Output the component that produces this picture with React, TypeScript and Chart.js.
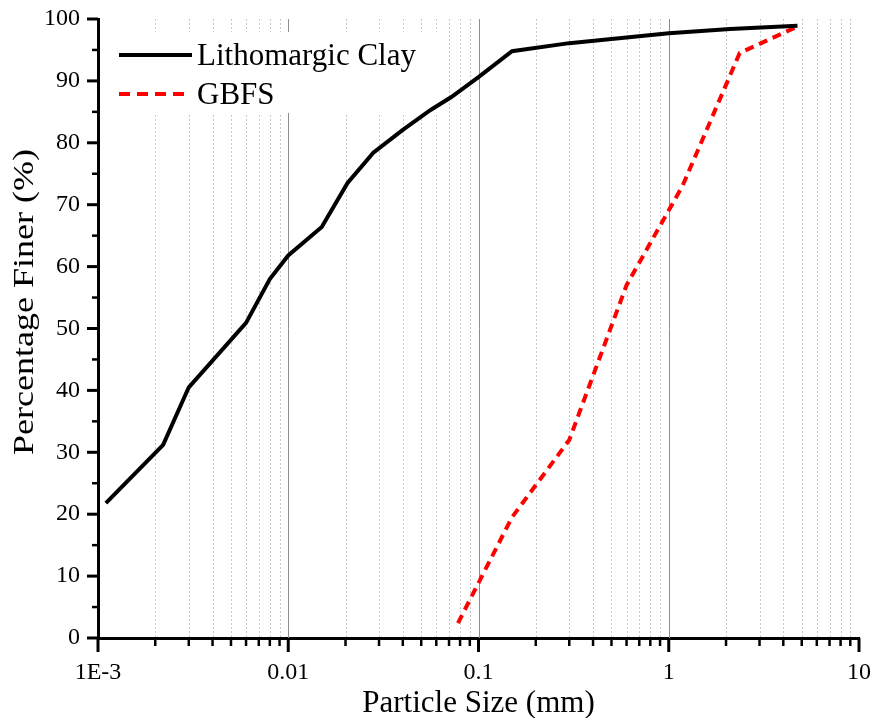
import React, { useEffect, useRef } from "react";
import { Chart, registerables } from "chart.js";

Chart.register(...registerables);

const clayLabel = "Lithomargic Clay";
const gbfsLabel = "GBFS";

const claySize = [0.0011, 0.0022, 0.003, 0.006, 0.008, 0.01, 0.015, 0.0205, 0.028, 0.04, 0.056, 0.072, 0.1, 0.15, 0.3, 1.0, 2.1, 4.75];
const clayFiner = [21.8, 31.2, 40.5, 50.9, 58.0, 61.8, 66.4, 73.5, 78.4, 82.1, 85.3, 87.4, 90.6, 94.8, 96.1, 97.7, 98.4, 98.9];

const gbfsSize = [0.078, 0.15, 0.3, 0.6, 1.18, 2.36, 4.75];
const gbfsFiner = [2.4, 19.5, 32.0, 57.0, 73.0, 94.5, 98.8];

const xDecades = [0.001, 0.01, 0.1, 1, 10];
const xDecadeLabels = ["1E-3", "0.01", "0.1", "1", "10"];
const xMajorGrid = [0.01, 0.1, 1];
const yMajorTicks = [0, 10, 20, 30, 40, 50, 60, 70, 80, 90, 100];
const yMinorTicks = [5, 15, 25, 35, 45, 55, 65, 75, 85, 95];

const xTitle = "Particle Size (mm)";
const yTitle = "Percentage Finer (%)";

const FONT = "'Liberation Serif', 'Times New Roman', serif";

function minorValues(): number[] {
  const out: number[] = [];
  for (let i = 0; i < xDecades.length - 1; i++) {
    for (let k = 2; k <= 9; k++) out.push(k * xDecades[i]);
  }
  return out;
}

const decorPlugin = {
  id: "decor",
  beforeDatasetsDraw(chart: any) {
    const { ctx, chartArea: ca, scales } = chart;
    const xs = scales.x;
    ctx.save();
    // minor dotted grid
    ctx.strokeStyle = "#c8c8c8";
    ctx.lineWidth = 1;
    ctx.setLineDash([2, 2]);
    for (const v of minorValues()) {
      const px = Math.round(xs.getPixelForValue(v)) + 0.5;
      ctx.beginPath();
      ctx.moveTo(px, ca.top);
      ctx.lineTo(px, ca.bottom);
      ctx.stroke();
    }
    ctx.setLineDash([]);
    ctx.strokeStyle = "#8c8c8c";
    for (const v of xMajorGrid) {
      const px = Math.round(xs.getPixelForValue(v)) + 0.5;
      ctx.beginPath();
      ctx.moveTo(px, ca.top);
      ctx.lineTo(px, ca.bottom);
      ctx.stroke();
    }
    // legend
    const lx = ca.left + 6;
    const ly = ca.top + 13;
    ctx.fillStyle = "#ffffff";
    ctx.fillRect(lx, ly, 340, 81);
    ctx.lineWidth = 4;
    ctx.strokeStyle = "#000000";
    ctx.beginPath();
    ctx.moveTo(ca.left + 21, ca.top + 36);
    ctx.lineTo(ca.left + 94, ca.top + 36);
    ctx.stroke();
    ctx.strokeStyle = "#ff0000";
    ctx.setLineDash([11, 7]);
    ctx.beginPath();
    ctx.moveTo(ca.left + 21, ca.top + 75);
    ctx.lineTo(ca.left + 90, ca.top + 75);
    ctx.stroke();
    ctx.setLineDash([]);
    ctx.fillStyle = "#000000";
    ctx.font = `31px ${FONT}`;
    ctx.textBaseline = "alphabetic";
    ctx.textAlign = "left";
    ctx.fillText(clayLabel, ca.left + 99, ca.top + 46);
    ctx.fillText(gbfsLabel, ca.left + 99, ca.top + 85);
    ctx.restore();
  },
  afterDraw(chart: any) {
    const { ctx, chartArea: ca, scales } = chart;
    const xs = scales.x;
    const ys = scales.y;
    ctx.save();
    ctx.strokeStyle = "#000000";
    ctx.lineWidth = 3;
    for (const v of xDecades) {
      const px = xs.getPixelForValue(v);
      ctx.beginPath();
      ctx.moveTo(px, ca.bottom);
      ctx.lineTo(px, ca.bottom + 14);
      ctx.stroke();
    }
    ctx.lineWidth = 2.5;
    for (const v of minorValues()) {
      const px = xs.getPixelForValue(v);
      ctx.beginPath();
      ctx.moveTo(px, ca.bottom);
      ctx.lineTo(px, ca.bottom + 8);
      ctx.stroke();
    }
    ctx.lineWidth = 3;
    for (const v of yMajorTicks) {
      const py = ys.getPixelForValue(v);
      ctx.beginPath();
      ctx.moveTo(ca.left, py);
      ctx.lineTo(ca.left - 11, py);
      ctx.stroke();
    }
    ctx.lineWidth = 2.5;
    for (const v of yMinorTicks) {
      const py = ys.getPixelForValue(v);
      ctx.beginPath();
      ctx.moveTo(ca.left, py);
      ctx.lineTo(ca.left - 6, py);
      ctx.stroke();
    }
    // axis titles
    ctx.fillStyle = "#000000";
    ctx.font = `31px ${FONT}`;
    ctx.textAlign = "center";
    ctx.textBaseline = "alphabetic";
    ctx.fillText(xTitle, (ca.left + ca.right) / 2, 712);
    ctx.font = `30px ${FONT}`;
    ctx.translate(33, 302);
    ctx.rotate(-Math.PI / 2);
    ctx.scale(1.2, 1);
    ctx.fillText(yTitle, 0, 0);
    ctx.restore();
  },
};

export default function App() {
  const ref = useRef<HTMLCanvasElement | null>(null);
  useEffect(() => {
    if (!ref.current) return;
    const chart = new Chart(ref.current, {
      type: "line",
      data: {
        datasets: [
          {
            label: clayLabel,
            data: claySize.map((x, i) => ({ x, y: clayFiner[i] })),
            borderColor: "#000000",
            borderWidth: 4,
            pointRadius: 0,
            tension: 0,
            fill: false,
          },
          {
            label: gbfsLabel,
            data: gbfsSize.map((x, i) => ({ x, y: gbfsFiner[i] })),
            borderColor: "#ff0000",
            borderWidth: 4,
            borderDash: [9, 6],
            pointRadius: 0,
            tension: 0,
            fill: false,
          },
        ],
      },
      options: {
        responsive: false,
        animation: false,
        devicePixelRatio: 1,
        layout: { autoPadding: false, padding: { top: 19, right: 15, left: 0, bottom: 0 } },
        plugins: { legend: { display: false }, tooltip: { enabled: false } },
        scales: {
          x: {
            type: "logarithmic",
            min: 0.001,
            max: 10,
            afterBuildTicks: (scale: any) => {
              scale.ticks = xDecades.map((v) => ({ value: v }));
            },
            afterFit: (scale: any) => {
              scale.height = 80;
              scale.paddingLeft = 0;
              scale.paddingRight = 0;
            },
            ticks: {
              autoSkip: false,
              maxRotation: 0,
              padding: 20,
              color: "#000000",
              font: { family: FONT, size: 24 },
              callback: (val: any) => {
                const i = xDecades.findIndex((d) => Math.abs(d - Number(val)) < d * 1e-6);
                return i >= 0 ? xDecadeLabels[i] : "";
              },
            },
            grid: { display: true, drawOnChartArea: false, drawTicks: false, color: "rgba(0,0,0,0)" },
            border: { display: true, color: "#000000", width: 3 },
          },
          y: {
            type: "linear",
            min: 0,
            max: 100,
            afterBuildTicks: (scale: any) => {
              scale.ticks = yMajorTicks.map((v) => ({ value: v }));
            },
            afterFit: (scale: any) => {
              scale.width = 98;
              scale.paddingTop = 0;
              scale.paddingBottom = 0;
            },
            ticks: {
              padding: 18,
              color: "#000000",
              font: { family: FONT, size: 24 },
            },
            grid: { display: true, drawOnChartArea: false, drawTicks: false, color: "rgba(0,0,0,0)" },
            border: { display: true, color: "#000000", width: 3 },
          },
        },
      },
      plugins: [decorPlugin],
    } as any);
    return () => chart.destroy();
  }, []);
  return (
    <div style={{ position: "absolute", left: 0, top: 0, width: 874, height: 718, background: "#fff" }}>
      <canvas ref={ref} width={874} height={718} style={{ width: 874, height: 718, display: "block" }} />
    </div>
  );
}
